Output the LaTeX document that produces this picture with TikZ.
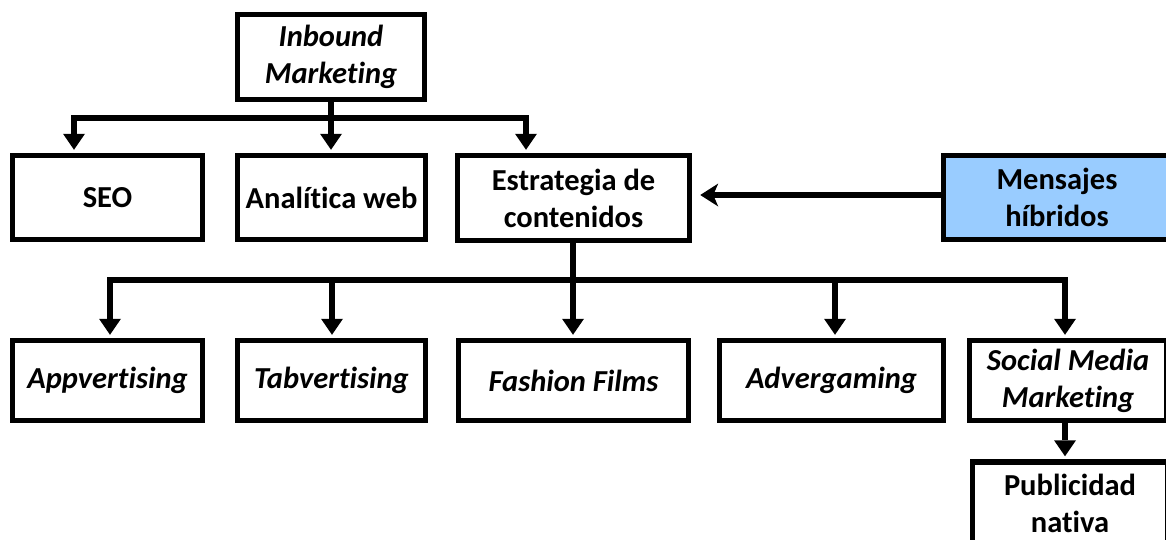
\documentclass[tikz,border=0pt]{standalone}
\usepackage{fontspec}
\setmainfont{Carlito}[Ligatures=NoCommon]
\usetikzlibrary{arrows.meta}
\definecolor{hyb}{HTML}{99CCFF}
\begin{document}
\begin{tikzpicture}[x=1pt,y=-1pt,
  box/.style={draw,line width=5.5pt,rectangle,inner sep=0pt,align=center,
    font=\fontsize{30.5}{37}\selectfont\bfseries},
  ital/.style={font=\fontsize{30.5}{37}\selectfont\bfseries\itshape},
  ln/.style={line width=5.5pt},
  arr/.style={line width=5.5pt,-{Triangle[width=22pt,length=16pt,line width=0pt]},shorten >=3pt},
  arrb/.style={line width=5.5pt,-{Stealth[width=23pt,length=18pt,inset=5pt,line width=0pt]}},
]
\useasboundingbox (0,0) rectangle (1166,539);
\clip (0,0) rectangle (1166,539);

% top
\node[box,ital,minimum width=187pt,minimum height=85pt] (inb) at (331,57) {Inbound\\Marketing};
% row 1
\node[box,minimum width=190pt,minimum height=84pt] (seo) at (107.5,197.5) {SEO};
\node[box,minimum width=188pt,minimum height=84pt] (ana) at (331.5,197.5) {Analítica web};
\node[box,minimum width=232pt,minimum height=85pt] (est) at (573.5,198) {Estrategia de\\contenidos};
\node[box,fill=hyb,minimum width=227pt,minimum height=84pt] (men) at (1057,197.5) {Mensajes\\híbridos};
% row 2
\node[box,ital,minimum width=190pt,minimum height=80pt] (app) at (107.5,380.5) {Appvertising};
\node[box,ital,minimum width=188pt,minimum height=80pt] (tab) at (331.5,380.5) {Tabvertising};
\node[box,ital,minimum width=230pt,minimum height=80pt] (fas) at (573.5,380.5) {Fashion Films};
\node[box,ital,minimum width=224pt,minimum height=80pt] (adv) at (831.5,380.5) {Advergaming};
\node[box,ital,minimum width=197pt,minimum height=80pt] (smm) at (1068,380.5) {Social Media\\Marketing};
% row 3
\node[box,minimum width=195pt,minimum height=82pt] (pub) at (1070,503) {Publicidad\\nativa};

% level 1 connectors
\coordinate (b1l) at (74,118);
\coordinate (b1m) at (331,118);
\coordinate (b1r) at (526,118);
\draw[ln] (inb.south) -- (b1m);
\draw[arr] (b1m) -- (b1l) -- (b1l |- seo.north);
\draw[arr] (b1m) -- (b1m |- ana.north);
\draw[arr] (b1m) -- (b1r) -- (b1r |- est.north);

% Mensajes -> Estrategia
\draw[arrb,shorten >=8pt] (men.west |- 0,195) -- (est.east |- 0,195);

% level 2 connectors
\coordinate (b2l) at (110,280);
\coordinate (b2t) at (332,280);
\coordinate (b2m) at (573,280);
\coordinate (b2a) at (835,280);
\coordinate (b2r) at (1065,280);
\draw[arr] (est.south -| b2m) -- (fas.north -| b2m);
\draw[arr] (b2m) -- (b2l) -- (b2l |- app.north);
\draw[arr] (b2t) -- (b2t |- tab.north);
\draw[arr] (b2a) -- (b2a |- adv.north);
\draw[arr] (b2m) -- (b2r) -- (b2r |- smm.north);
\draw[arr] (smm.south -| b2r) -- (pub.north -| b2r);
\end{tikzpicture}
\end{document}
